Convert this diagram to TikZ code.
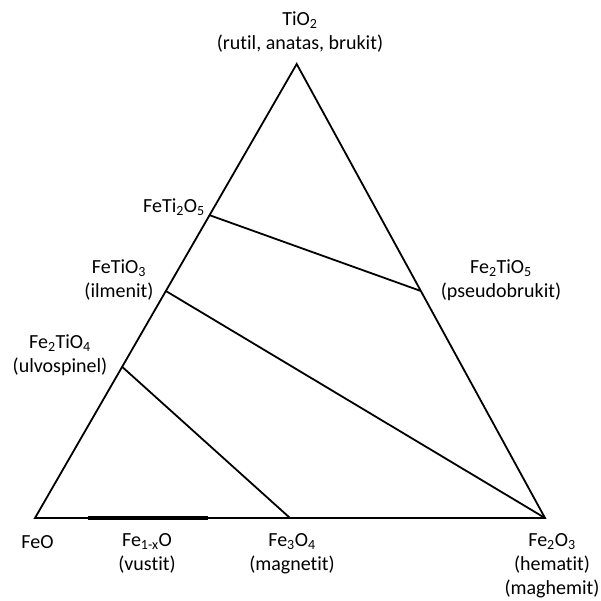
\documentclass[tikz,border=0pt]{standalone}
\usepackage{fontspec}
\setmainfont{Carlito}[Ligatures={NoCommon}]
\usetikzlibrary{calc}

\begin{document}
\begin{tikzpicture}[x=1pt,y=-1pt,
every node/.style={font=\fontsize{20}{24}\selectfont},
lbl/.style={align=center,inner sep=0pt},
side/.style={draw=black,line width=1.8pt,line join=miter},
tie/.style={draw=black,line width=1.8pt},
wbar/.style={draw=black,line width=4pt}
]
\useasboundingbox (0,0) rectangle (600,601);

% corners of the triangle
\coordinate (feo) at (35,518);
\coordinate (hem) at (545,518);
\coordinate (tio) at (296.7,64);
% phases on the edges
\coordinate (feti)   at ($(feo)!0.667!(tio)$);
\coordinate (ilm)    at ($(feo)!0.5!(tio)$);
\coordinate (ulvo)   at ($(feo)!0.333!(tio)$);
\coordinate (pseudo) at ($(hem)!0.5!(tio)$);
\coordinate (mag)    at ($(feo)!0.5!(hem)$);
\coordinate (wa) at (87.5,518);
\coordinate (wb) at (207.5,518);

\draw[side] (feo) -- (hem) -- (tio) -- cycle;
\draw[tie] (feti) -- (pseudo);
\draw[tie] (ilm) -- (hem);
\draw[tie] (ulvo) -- (mag);
\draw[wbar] (wa) -- (wb);

\node[lbl] (ltio) at (300,32) {TiO\textsubscript{2}\\(rutil, anatas, brukit)};
\node[lbl,anchor=east] (lfeti) at (205,207) {FeTi\textsubscript{2}O\textsubscript{5}};
\node[lbl] (lilm) at (119,280) {FeTiO\textsubscript{3}\\(ilmenit)};
\node[lbl] (lpseudo) at (501,280) {Fe\textsubscript{2}TiO\textsubscript{5}\\(pseudobrukit)};
\node[lbl] (lulvo) at (60,355) {Fe\textsubscript{2}TiO\textsubscript{4}\\(ulvospinel)};
\node[lbl] (lfeo) at (37.5,542) {FeO};
\node[lbl] (lvus) at (147,553.5) {Fe\textsubscript{1-x}O\\(vustit)};
\node[lbl] (lmag) at (292,553.5) {Fe\textsubscript{3}O\textsubscript{4}\\(magnetit)};
\node[lbl] (lhem) at (552,566) {Fe\textsubscript{2}O\textsubscript{3}\\(hematit)\\(maghemit)};
\end{tikzpicture}
\end{document}
